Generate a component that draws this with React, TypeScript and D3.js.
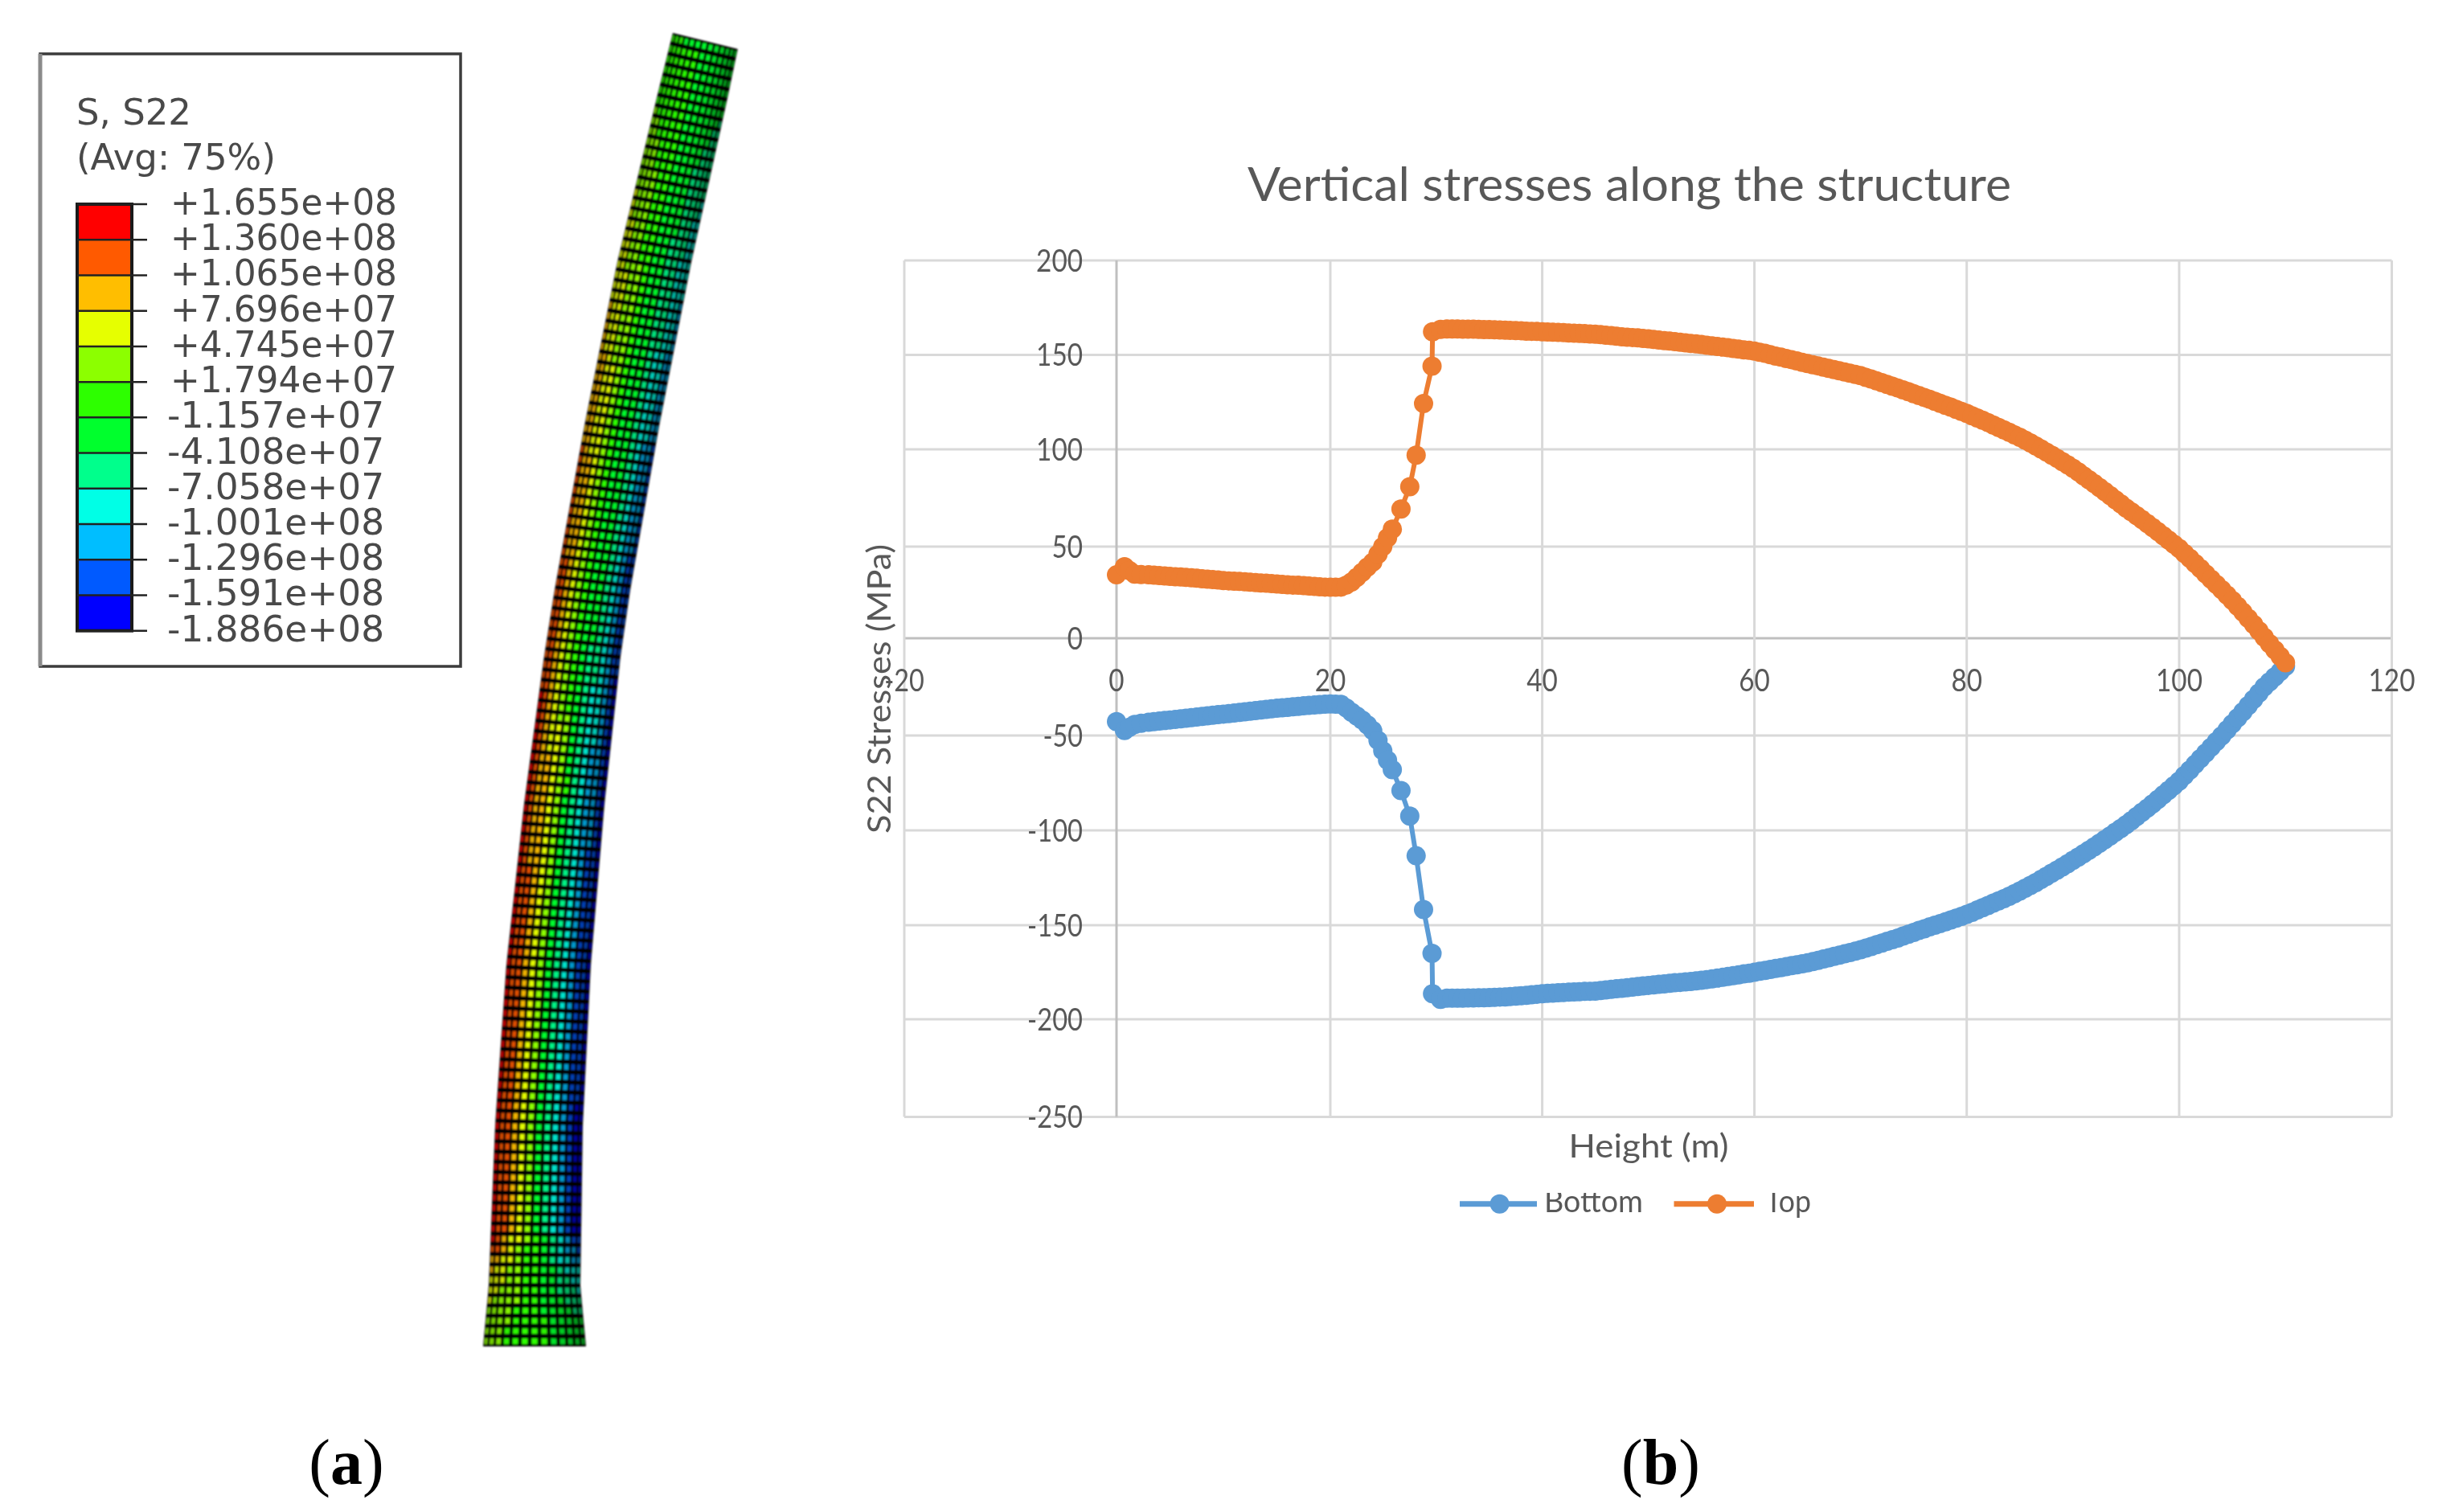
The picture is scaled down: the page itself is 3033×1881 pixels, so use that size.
import React from "react";
import * as d3 from "d3";

// ---------- chart data ----------
const heights = [0,0.75,1.2,1.7,2.3,...d3.range(3,25,0.5),24.95,25.4,25.85,26.67,27.5,28.1,28.8,29.6,29.65,30.4,...d3.range(31,110.5,0.5)];
const topStress = [34.6,39,37,35,34.8,
34.6,34.4,34.2,34,33.8,33.6,33.4,33.2,33,32.8,32.5,32.2,32,31.8,31.5,31.3,31.1,31,30.8,30.6,30.4,30.2,30,29.8,29.6,29.4,29.2,29,28.9,28.7,28.5,28.3,28.1,27.9,27.8,27.8,27.9,
29,30.7,33.2,36,38.8,41.5,45.8,
50,54.5,59,69.3,80.8,97,124.3,144,162.2,163.5,
163.7,163.7,163.7,163.6,163.6,163.6,163.5,163.4,163.4,163.3,163.2,163.1,163,162.9,162.8,162.6,162.5,162.4,162.2,162.1,
162,161.9,161.8,161.6,161.5,161.4,161.3,161.1,161,160.7,160.4,160.2,159.9,159.6,159.4,159.2,159,158.7,158.5,158.2,
157.9,157.6,157.3,157,156.7,156.4,156.1,155.8,155.5,155.1,154.8,154.5,154.1,153.8,153.4,153.1,152.7,152.4,152,151.4,
150.8,150.1,149.4,148.8,148.1,147.5,146.8,146.1,145.4,144.8,144.2,143.5,142.9,142.2,141.6,141,140.3,139.7,139,138.1,
137.2,136.3,135.3,134.4,133.4,132.5,131.5,130.5,129.5,128.5,127.5,126.5,125.4,124.4,123.3,122.3,121.2,120.1,119,117.8,
116.6,115.4,114.2,112.9,111.6,110.3,109,107.7,106.4,104.9,103.4,101.8,100.2,98.6,97,95.4,93.7,92,90.3,88.4,
86.4,84.4,82.4,80.4,78.3,76.2,74.1,72,69.8,67.9,65.9,63.9,61.9,59.8,57.7,55.6,53.4,51.2,49,46.3,
43.6,40.8,38,35.1,32.2,29.4,26.5,23.6,20.6,17.4,14.2,10.9,7.6,4.1,0.5,-2.8,-6,-9.3,-12.6];
const bottomStress = [-42.9,-47.4,-45.8,-44.3,-43.7,
-43.2,-42.9,-42.6,-42.3,-42,-41.7,-41.4,-41.1,-40.8,-40.5,-40.2,-39.9,-39.6,-39.3,-39,-38.7,-38.4,-38.1,-37.8,-37.5,-37.2,-36.9,-36.6,-36.3,-36,-35.7,-35.5,-35.2,-35,-34.7,-34.5,-34.3,-34.1,-33.9,-33.8,-33.9,-34,
-35.8,-38,-40,-42,-44.5,-47.4,-52.5,
-58,-63,-68,-79,-92.5,-113.4,-141.7,-165,-186.4,-189.4,
-188.8,-188.8,-188.8,-188.8,-188.7,-188.7,-188.6,-188.6,-188.5,-188.4,-188.2,-188.1,-187.9,-187.7,-187.5,-187.3,-187,-186.7,-186.4,-186.2,
-186.1,-185.9,-185.8,-185.6,-185.5,-185.4,-185.2,-185.1,-185,-184.7,-184.4,-184.1,-183.8,-183.5,-183.2,-182.9,-182.6,-182.3,-182,-181.7,
-181.4,-181.2,-180.9,-180.6,-180.4,-180.1,-179.9,-179.6,-179.3,-178.9,-178.5,-178.1,-177.7,-177.2,-176.8,-176.4,-175.9,-175.5,-175,-174.5,
-174,-173.5,-173,-172.5,-172,-171.5,-171,-170.5,-170,-169.3,-168.7,-168,-167.3,-166.6,-165.9,-165.2,-164.5,-163.8,-163,-162.2,
-161.3,-160.4,-159.5,-158.6,-157.7,-156.8,-155.8,-154.8,-153.8,-152.8,-151.9,-150.9,-150,-149.1,-148.2,-147.2,-146.3,-145.3,-144.3,-143.2,
-142,-140.8,-139.6,-138.4,-137.2,-136,-134.7,-133.4,-132,-130.5,-129,-127.5,-125.9,-124.3,-122.6,-121,-119.3,-117.6,-115.8,-114.1,
-112.3,-110.5,-108.7,-106.8,-104.9,-103,-101,-99,-97,-94.9,-92.7,-90.5,-88.3,-86,-83.7,-81.3,-78.9,-76.5,-74,-71.1,
-68.2,-65.2,-62.2,-59.2,-56.2,-53.2,-50.2,-47.1,-44,-40.9,-37.8,-34.6,-31.4,-28.2,-25,-22.4,-19.8,-17.2,-14.5];
const xTicks = [-20,0,20,40,60,80,100,120];
const yTicks = [200,150,100,50,0,-50,-100,-150,-200,-250];

// ---------- contour legend ----------
const contourLabels = ["+1.655e+08","+1.360e+08","+1.065e+08","+7.696e+07","+4.745e+07","+1.794e+07","-1.157e+07","-4.108e+07","-7.058e+07","-1.001e+08","-1.296e+08","-1.591e+08","-1.886e+08"];
const contourValues = [165.5,136,106.5,76.96,47.45,17.94,-11.57,-41.08,-70.58,-100.1,-129.6,-159.1,-188.6];
const contourColors = ["#ff0000","#ff5a00","#ffbe00","#e6ff00","#8cff00","#2dff00","#00ff2d","#00ff8c","#00ffe6","#00beff","#005aff","#0000ff"];

// ---------- outline of the tower in panel (a) ----------
const towerY = [41,122,326,530,734,816,1000,1200,1400,1600,1675];
const towerLeft = [837,817,768,727,690,677,652,630,616,608,601];
const towerRight = [922,905,860,820,784,772,752,735,725,722,729];

const GREY = "#595959";
const LATO = "Lato, 'Open Sans', sans-serif";

const x = d3.scaleLinear().domain(xTicks).range([1125,1389,1655,1918.6,2182.6,2446.7,2711,2975.5]);
const y = d3.scaleLinear().domain(yTicks).range([324,441.5,559,680,794,915,1033,1151,1268,1389.5]);

const line = d3.line<number>().x((_, i) => x(heights[i])).y((v) => y(v));

function tickWidth(s: string) {
  return s.replace("-", "").length * 19.3 + (s.includes("-") ? 11 : 0);
}

function Series({ values, color }: { values: number[]; color: string }) {
  return (
    <g>
      <path d={line(values) || ""} fill="none" stroke={color} strokeWidth={6} />
      {values.map((v, i) => (
        <circle key={i} cx={x(heights[i])} cy={y(v)} r={12} fill={color} />
      ))}
    </g>
  );
}

function Tower() {
  const leftAt = d3.scaleLinear().domain(towerY).range(towerLeft);
  const rightAt = d3.scaleLinear().domain(towerY).range(towerRight);
  const skew = d3.scaleLinear().domain([41, 1675]).range([20, 0]);
  const heightAt = d3.scaleLinear().domain([1675, 1620, 1540, 41]).range([20, 25.5, 29.7, 110]);
  const split = heights.indexOf(29.65);
  const topAt = d3.scaleLinear().domain(heights.slice(split)).range(topStress.slice(split));
  const topLow = d3.scaleLinear().domain(heights.slice(0, split)).range(topStress.slice(0, split));
  const botAt = d3.scaleLinear().domain(heights.slice(split)).range(bottomStress.slice(split));
  const botLow = d3.scaleLinear().domain(heights.slice(0, split)).range(bottomStress.slice(0, split));
  const colour = d3
    .scaleThreshold<number, string>()
    .domain(contourValues.slice().reverse().slice(1, -1))
    .range(contourColors.slice().reverse());

  const rows = 128;
  const cols = 13;
  const rowY = d3.range(rows + 1).map((i) => 41 + (i * (1675 - 41)) / rows);
  const frac = (i: number) => {
    const t = i / cols;
    return 0.55 * t + 0.45 * (1 - Math.cos(Math.PI * t)) / 2;
  };
  const pt = (yy: number, f: number): [number, number] => {
    const s = skew(yy);
    const l = leftAt(yy);
    const r = rightAt(yy + s);
    return [l + (r - l) * f, yy + s * f];
  };
  const poly = d3.line();
  const outline = [
    ...rowY.map((yy) => pt(yy, 0)),
    ...rowY.slice().reverse().map((yy) => pt(yy, 1)),
  ];
  const cells: React.ReactNode[] = [];
  rowY.slice(0, -1).forEach((y0, r) => {
    const y1 = rowY[r + 1];
    const ym = (y0 + y1) / 2;
    const h = heightAt(ym);
    const top = h < 29.65 ? topLow(h) : topAt(h);
    const bot = h < 29.65 ? botLow(h) : botAt(h);
    for (let c = 0; c < cols; c++) {
      const f0 = frac(c);
      const f1 = frac(c + 1);
      const fm = (f0 + f1) / 2;
      const a = f0 + (f1 - f0) * 0.2;
      const b = f1 - (f1 - f0) * 0.2;
      const ya = y0 + (y1 - y0) * 0.22;
      const yb = y1 - (y1 - y0) * 0.22;
      const v = top + (bot - top) * fm;
      // the render is lit from the front-left: both edges of the tube fall into shadow
      const shade = 1.9 * Math.pow(Math.abs(fm - 0.42) / 0.58, 2.2);
      cells.push(
        <path key={r + "-" + c} d={poly([pt(ya, a), pt(ya, b), pt(yb, b), pt(yb, a)]) + "Z"}
          fill={d3.rgb(colour(v)).darker(shade).formatHex()} />
      );
    }
  });
  return (
    <g filter="url(#meshBlur)">
      <path d={(poly(outline as [number, number][]) || "") + "Z"} fill="#000" />
      {cells}
    </g>
  );
}

function ContourLegend() {
  const yPos = d3.scalePoint<string>().domain(contourLabels).range([254, 784.7]);
  return (
    <g>
      <rect x={50} y={67} width={523} height={762} fill="#fff" stroke="#3c3c3c" strokeWidth={3.5} />
      <line x1={50} y1={67} x2={50} y2={829} stroke="#8a8a8a" strokeWidth={5} />
      {contourColors.map((c, i) => (
        <rect key={c} x={96} y={yPos(contourLabels[i])} width={68} height={(yPos(contourLabels[i + 1]) as number) - (yPos(contourLabels[i]) as number)} fill={c} />
      ))}
      <rect x={96} y={254} width={68} height={530.7} fill="none" stroke="#1a1a1a" strokeWidth={4} />
      {contourLabels.map((l) => (
        <line key={l} x1={96} x2={183} y1={yPos(l)} y2={yPos(l)} stroke="#222" strokeWidth={2.5} />
      ))}
      <g fontFamily="'DejaVu Sans', sans-serif" fill="#4a4a4a" filter="url(#textBlur)">
        <text x={95} y={155} fontSize={45}>S, S22</text>
        <text x={95} y={211} fontSize={45}>(Avg: 75%)</text>
        {contourLabels.map((l) => (
          <text key={l} x={l[0] === "+" ? 212 : 208} y={(yPos(l) as number) + 13} fontSize={44}
            textLength={l[0] === "+" ? 282 : 270} lengthAdjust="spacingAndGlyphs">{l}</text>
        ))}
      </g>
    </g>
  );
}

function Chart() {
  return (
    <g>
      {yTicks.map((t) => (
        <line key={t} x1={x(-20)} x2={x(120)} y1={y(t)} y2={y(t)} stroke={t === 0 ? "#bfbfbf" : "#d9d9d9"} strokeWidth={3} />
      ))}
      {xTicks.map((t) => (
        <line key={t} x1={x(t)} x2={x(t)} y1={y(200)} y2={y(-250)} stroke={t === 0 ? "#bfbfbf" : "#d9d9d9"} strokeWidth={3} />
      ))}
      <g fontFamily={LATO} fill={GREY} filter="url(#textBlur)">
        <text x={1552} y={250} fontSize={58} textLength={950} lengthAdjust="spacingAndGlyphs">Vertical stresses along the structure</text>
        {yTicks.map((t) => (
          <text key={t} x={1347} y={y(t)} dy="0.36em" fontSize={38} textAnchor="end" textLength={tickWidth(String(t))} lengthAdjust="spacingAndGlyphs">{t}</text>
        ))}
        {xTicks.map((t) => (
          <text key={t} x={x(t)} y={846} dy="0.36em" fontSize={38} textAnchor="middle" textLength={tickWidth(String(t))} lengthAdjust="spacingAndGlyphs">{t}</text>
        ))}
        <text transform="translate(1108,857) rotate(-90)" fontSize={40} textAnchor="middle" textLength={360} lengthAdjust="spacingAndGlyphs">S22 Stresses (MPa)</text>
        <text x={2051} y={1440} fontSize={40} textAnchor="middle" textLength={199} lengthAdjust="spacingAndGlyphs">Height (m)</text>
      </g>
      <Series values={bottomStress} color="#5b9bd5" />
      <Series values={topStress} color="#ed7d31" />
      <g>
        <line x1={1816} x2={1912} y1={1497.7} y2={1497.7} stroke="#5b9bd5" strokeWidth={7} />
        <circle cx={1865.6} cy={1497.7} r={12} fill="#5b9bd5" />
        <line x1={2082.5} x2={2182} y1={1497.7} y2={1497.7} stroke="#ed7d31" strokeWidth={7} />
        <circle cx={2136} cy={1497.7} r={12} fill="#ed7d31" />
        <g clipPath="url(#legendClip)" fontFamily={LATO} fontSize={38} fill={GREY} filter="url(#textBlur)">
          <text x={1921} y={1508} textLength={123} lengthAdjust="spacingAndGlyphs">Bottom</text>
          <text x={2196} y={1508} textLength={57} lengthAdjust="spacingAndGlyphs">Top</text>
        </g>
      </g>
    </g>
  );
}

function PanelLabel({ cx, letter }: { cx: number; letter: string }) {
  return (
    <text x={cx} y={1846} textAnchor="middle" fontFamily="'Liberation Serif', serif" fontSize={80} fill="#000">
      (<tspan fontWeight="bold">{letter}</tspan>)
    </text>
  );
}

export default function App() {
  return (
    <svg width={3033} height={1881} viewBox="0 0 3033 1881" style={{ position: "absolute", left: 0, top: 0, background: "#fff" }}>
      <defs>
        <filter id="meshBlur" x="-5%" y="-2%" width="110%" height="104%"><feGaussianBlur stdDeviation="1.1" /></filter>
        <filter id="textBlur" x="-5%" y="-5%" width="110%" height="110%"><feGaussianBlur stdDeviation="0.7" /></filter>
        <clipPath id="legendClip"><rect x={1900} y={1484} width={400} height={50} /></clipPath>
      </defs>
      <ContourLegend />
      <Tower />
      <Chart />
      <PanelLabel cx={431} letter="a" />
      <PanelLabel cx={2066} letter="b" />
    </svg>
  );
}
